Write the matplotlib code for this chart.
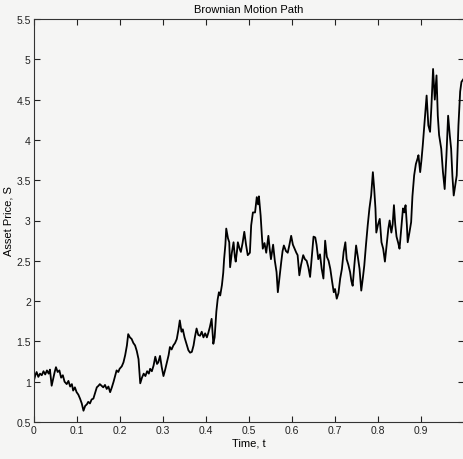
import matplotlib
matplotlib.use("Agg")
import matplotlib.pyplot as plt

plt.rcParams['font.family'] = ['Liberation Sans', 'DejaVu Sans']

t = [0.000, 0.004, 0.007, 0.011, 0.015, 0.019, 0.023, 0.027, 0.031, 0.035,
     0.038, 0.042, 0.046, 0.049, 0.052, 0.056, 0.060, 0.064, 0.068, 0.072,
     0.077, 0.081, 0.085, 0.089, 0.092, 0.096, 0.100, 0.104, 0.108, 0.112,
     0.116, 0.120, 0.124, 0.127, 0.131, 0.135, 0.139, 0.143, 0.147, 0.151,
     0.154, 0.158, 0.162, 0.166, 0.170, 0.174, 0.178, 0.182, 0.186, 0.190,
     0.193, 0.197, 0.200, 0.205, 0.209, 0.213, 0.217, 0.220, 0.224, 0.228,
     0.232, 0.236, 0.240, 0.244, 0.248, 0.252, 0.256, 0.260, 0.264, 0.268,
     0.271, 0.275, 0.279, 0.283, 0.287, 0.290, 0.294, 0.298, 0.302, 0.306,
     0.310, 0.314, 0.317, 0.321, 0.325, 0.329, 0.333, 0.337, 0.340, 0.344,
     0.347, 0.351, 0.355, 0.360, 0.364, 0.368, 0.372, 0.375, 0.379, 0.383,
     0.387, 0.391, 0.395, 0.399, 0.403, 0.406, 0.410, 0.414, 0.418, 0.421,
     0.425, 0.428, 0.431, 0.434, 0.438, 0.441, 0.443, 0.446, 0.448, 0.452,
     0.455, 0.457, 0.461, 0.465, 0.468, 0.470, 0.473, 0.475, 0.479, 0.482,
     0.486, 0.490, 0.494, 0.498, 0.503, 0.506, 0.510, 0.515, 0.519, 0.522,
     0.524, 0.528, 0.531, 0.533, 0.537, 0.541, 0.546, 0.549, 0.552, 0.557,
     0.561, 0.565, 0.568, 0.572, 0.576, 0.579, 0.582, 0.587, 0.591, 0.595,
     0.599, 0.603, 0.607, 0.611, 0.614, 0.618, 0.622, 0.627, 0.631, 0.635,
     0.639, 0.643, 0.647, 0.651, 0.655, 0.658, 0.662, 0.666, 0.670, 0.674,
     0.678, 0.682, 0.686, 0.690, 0.694, 0.698, 0.701, 0.705, 0.709, 0.713,
     0.717, 0.721, 0.725, 0.728, 0.732, 0.736, 0.739, 0.742, 0.746, 0.750,
     0.754, 0.758, 0.762, 0.766, 0.769, 0.773, 0.777, 0.781, 0.785, 0.789,
     0.792, 0.795, 0.797, 0.801, 0.805, 0.809, 0.813, 0.817, 0.821, 0.825,
     0.828, 0.832, 0.835, 0.838, 0.841, 0.844, 0.848, 0.851, 0.855, 0.859,
     0.862, 0.865, 0.868, 0.870, 0.874, 0.878, 0.881, 0.885, 0.889, 0.893,
     0.895, 0.899, 0.902, 0.905, 0.909, 0.912, 0.914, 0.918, 0.922, 0.925,
     0.929, 0.933, 0.937, 0.940, 0.943, 0.948, 0.952, 0.956, 0.960, 0.964,
     0.968, 0.971, 0.974, 0.977, 0.981, 0.984, 0.988, 0.992, 0.995, 0.999]

S = [1.00, 1.08, 1.12, 1.06, 1.10, 1.08, 1.13, 1.09, 1.14, 1.10,
     1.15, 0.95, 1.05, 1.12, 1.18, 1.12, 1.14, 1.05, 1.08, 1.00,
     0.97, 1.01, 0.94, 0.97, 0.89, 0.93, 0.87, 0.84, 0.79, 0.73,
     0.64, 0.70, 0.72, 0.75, 0.73, 0.78, 0.79, 0.86, 0.93, 0.95,
     0.97, 0.95, 0.93, 0.96, 0.91, 0.94, 0.87, 0.93, 1.00, 1.08,
     1.14, 1.12, 1.16, 1.19, 1.24, 1.33, 1.45, 1.59, 1.55, 1.53,
     1.48, 1.45, 1.38, 1.28, 0.98, 1.05, 1.10, 1.07, 1.13, 1.10,
     1.16, 1.13, 1.20, 1.31, 1.22, 1.24, 1.32, 1.18, 1.07, 1.15,
     1.24, 1.33, 1.43, 1.40, 1.45, 1.48, 1.53, 1.65, 1.76, 1.62,
     1.65, 1.55, 1.48, 1.39, 1.36, 1.37, 1.45, 1.55, 1.66, 1.58,
     1.57, 1.62, 1.55, 1.60, 1.55, 1.60, 1.68, 1.78, 1.47, 1.55,
     1.87, 2.02, 2.11, 2.07, 2.20, 2.35, 2.52, 2.70, 2.90, 2.78,
     2.73, 2.42, 2.60, 2.73, 2.55, 2.49, 2.62, 2.73, 2.65, 2.61,
     2.72, 2.86, 2.70, 2.57, 2.60, 2.94, 3.10, 3.10, 3.29, 3.20,
     3.30, 3.06, 2.80, 2.65, 2.72, 2.60, 2.81, 2.65, 2.52, 2.70,
     2.50, 2.36, 2.11, 2.30, 2.49, 2.62, 2.69, 2.62, 2.60, 2.70,
     2.81, 2.70, 2.65, 2.60, 2.57, 2.32, 2.45, 2.57, 2.52, 2.50,
     2.42, 2.30, 2.55, 2.80, 2.79, 2.70, 2.52, 2.58, 2.40, 2.28,
     2.75, 2.55, 2.50, 2.40, 2.25, 2.11, 2.15, 2.03, 2.10, 2.28,
     2.40, 2.61, 2.73, 2.52, 2.45, 2.36, 2.25, 2.19, 2.45, 2.69,
     2.55, 2.40, 2.13, 2.30, 2.44, 2.70, 2.94, 3.15, 3.31, 3.60,
     3.40, 3.15, 2.85, 2.95, 3.02, 2.73, 2.65, 2.49, 2.70, 2.90,
     3.00, 2.85, 2.95, 3.19, 2.95, 2.80, 2.72, 2.65, 2.90, 3.15,
     3.10, 3.19, 2.95, 2.73, 2.85, 2.98, 3.30, 3.56, 3.70, 3.77,
     3.81, 3.60, 3.75, 3.93, 4.20, 4.40, 4.55, 4.18, 4.10, 4.40,
     4.88, 4.50, 4.80, 4.30, 4.06, 3.89, 3.60, 3.39, 3.80, 4.30,
     4.05, 3.89, 3.55, 3.31, 3.45, 3.56, 4.18, 4.60, 4.72, 4.75]

x_ticks = [0, 0.1, 0.2, 0.3, 0.4, 0.5, 0.6, 0.7, 0.8, 0.9]
x_tick_labels = ["0", "0.1", "0.2", "0.3", "0.4", "0.5", "0.6", "0.7", "0.8", "0.9"]
y_ticks = [0.5, 1, 1.5, 2, 2.5, 3, 3.5, 4, 4.5, 5, 5.5]
y_tick_labels = ["0.5", "1", "1.5", "2", "2.5", "3", "3.5", "4", "4.5", "5", "5.5"]

bg = "#f5f5f4"
fig = plt.figure(figsize=(4.63, 4.60), dpi=100, facecolor=bg)
ax = fig.add_axes([33.6 / 463, 1 - 423 / 460, 430 / 463, 403 / 460])
ax.set_facecolor(bg)

ax.plot(t, S, color="black", linewidth=1.3)

ax.set_xlim(0, 1)
ax.set_ylim(0.5, 5.5)
ax.set_xticks(x_ticks)
ax.set_xticklabels(x_tick_labels)
ax.set_yticks(y_ticks)
ax.set_yticklabels(y_tick_labels)
ax.tick_params(direction="in", length=4, width=0.8, labelsize=7.5,
               top=True, right=True, pad=2, colors="#222222")
for sp in ax.spines.values():
    sp.set_linewidth(0.8)
    sp.set_color("#333333")

ax.set_title("Brownian Motion Path", fontsize=8, pad=5)
ax.set_xlabel("Time, t", fontsize=8, labelpad=2)
ax.set_ylabel("Asset Price, S", fontsize=8, labelpad=2)

fig.savefig("out.png", dpi=100, facecolor=bg)
